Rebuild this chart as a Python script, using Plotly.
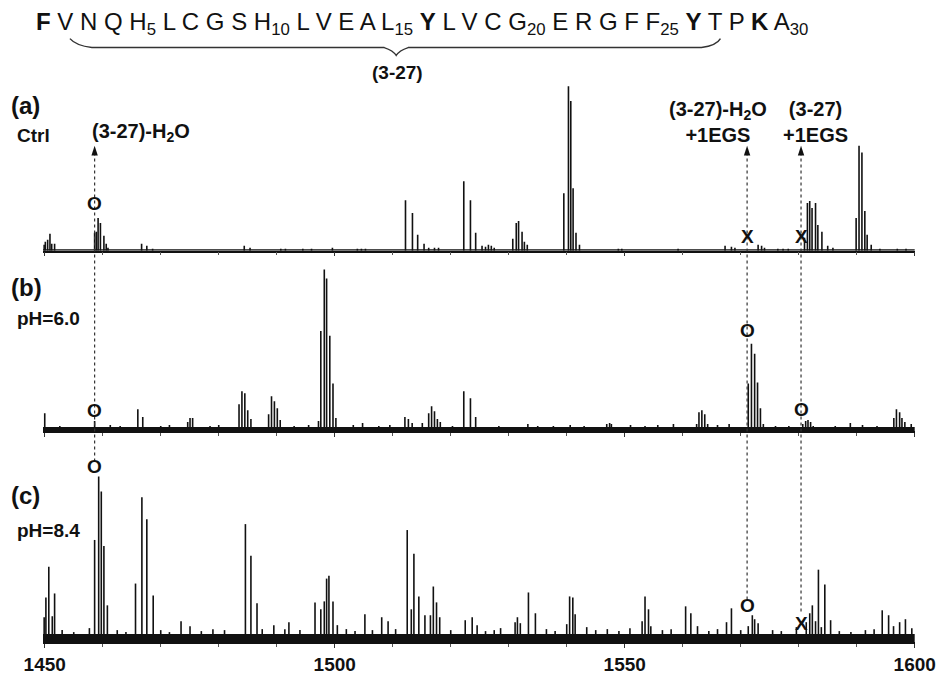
import plotly.graph_objects as go

# ---------------- data (m/z, relative intensity a.u.) ----------------
mz_a = [1449.9, 1450.1, 1450.5, 1450.9, 1451.2, 1451.7,
        1458.6, 1458.9, 1459.2, 1459.6, 1460.2, 1460.6, 1460.9,
        1466.7, 1467.6, 1468.6, 1484.4, 1485.4, 1490.7, 1491.5,
        1494.5, 1496.0, 1499.6, 1503.9, 1504.6, 1505.3,
        1512.2, 1513.4, 1514.3, 1515.4, 1516.2, 1517.2, 1517.9,
        1522.25, 1523.4, 1524.3, 1525.4, 1526.0, 1526.5, 1527.0, 1527.5,
        1530.7, 1531.3, 1531.7, 1532.3, 1532.7, 1533.2,
        1539.5, 1540.3, 1540.7, 1541.1, 1541.6, 1542.2,
        1548.9, 1549.5, 1559.2, 1567.3, 1568.4, 1569.0,
        1573.0, 1573.6, 1574.1, 1576.4, 1577.3, 1578.2,
        1581.0, 1581.5, 1581.9, 1582.3, 1582.9, 1583.3, 1584.0, 1585.0, 1585.9,
        1589.9, 1590.4, 1590.9, 1591.4, 1591.8, 1592.5,
        1594.0, 1597.0, 1598.5]
int_a = [6, 9, 11, 17, 7, 7,
         18, 19, 33, 28, 15, 7, 3,
         7, 5, 2, 5, 3, 2, 2,
         2, 2, 3, 2, 2, 2,
         51, 38, 16, 7, 3, 3, 3,
         70, 51, 18, 5, 4, 6, 5, 3,
         12, 28, 30, 19, 9, 6,
         58, 166, 151, 63, 18, 6,
         2, 2, 2, 5, 4, 3,
         6, 5, 3, 2, 2, 2,
         13, 48, 50, 43, 48, 26, 19, 5, 3,
         33, 106, 99, 40, 16, 6,
         2, 2, 2]

mz_b = [1450.0, 1452.6, 1455.3, 1458.6, 1461.3, 1463.0, 1466.05, 1466.9,
        1470.0, 1471.5, 1474.65, 1475.05, 1475.5, 1478.5, 1480.0,
        1483.5, 1484.0, 1484.5, 1485.0, 1485.55,
        1488.6, 1489.1, 1489.6, 1490.1, 1490.6, 1493.0, 1495.5,
        1497.2, 1497.6, 1498.2, 1498.6, 1499.15, 1499.7, 1500.2,
        1503.2, 1504.8, 1507.6, 1509.5,
        1512.1, 1512.7, 1513.35,
        1515.1, 1516.2, 1516.7, 1517.2, 1517.7, 1518.2, 1520.3,
        1522.25, 1523.4, 1524.3, 1528.3, 1533.3, 1535.0, 1537.7, 1540.6, 1543.0,
        1546.9, 1547.4, 1547.7, 1551.0, 1553.5, 1555.7, 1558.4,
        1562.4, 1562.8, 1563.3, 1563.8, 1564.3, 1566.0, 1568.0,
        1571.3, 1571.85, 1572.4, 1572.9, 1573.4, 1573.9, 1576.0, 1578.3,
        1580.7, 1581.2, 1581.6, 1582.05, 1582.5, 1584.5, 1586.3, 1588.9,
        1591.0, 1593.5,
        1596.4, 1596.85, 1597.4, 1597.8, 1598.3, 1599.4]
int_b = [18, 5, 4, 10, 6, 5, 22, 14,
         5, 6, 9, 13, 13, 5, 6,
         27, 40, 38, 21, 12,
         17, 35, 30, 23, 11, 5, 6,
         10, 101, 163, 154, 96, 48, 13,
         6, 8, 5, 6,
         14, 12, 8,
         8, 18, 25, 20, 12, 9, 5,
         40, 33, 14, 5, 7, 5, 5, 6, 5,
         7, 8, 7, 6, 5, 6, 7,
         7, 19, 21, 17, 7, 6, 7,
         48, 88, 78, 49, 23, 7, 5, 5,
         7, 10, 11, 9, 5, 4, 5, 8,
         6, 5,
         13, 22, 19, 13, 9, 7]

mz_c = [1449.9, 1450.2, 1450.7, 1451.3, 1451.7, 1453.0, 1455.0, 1457.7,
        1458.6, 1459.3, 1459.75, 1460.2, 1460.8, 1462.5, 1464.0,
        1465.65, 1466.75, 1467.6, 1468.7, 1470.0, 1471.5,
        1473.5, 1475.05, 1477.0, 1479.0, 1481.0,
        1484.6, 1485.55, 1486.6, 1487.5, 1489.5, 1491.4, 1492.1, 1494.0,
        1496.6, 1497.6, 1498.2, 1498.6, 1499.0, 1499.7, 1500.45,
        1502.0, 1503.5, 1505.2, 1506.5, 1508.1, 1509.2, 1510.5,
        1512.5, 1513.2, 1513.65, 1514.5, 1515.55, 1516.5, 1517.0, 1517.55, 1518.1,
        1520.0, 1522.5, 1523.7, 1524.55, 1526.0, 1527.5, 1528.6,
        1531.1, 1531.5, 1532.0, 1533.4, 1534.6, 1536.5, 1538.0,
        1540.0, 1540.5, 1541.05, 1541.45, 1543.45, 1545.0, 1547.0, 1549.0,
        1550.9, 1553.0, 1553.5, 1554.1, 1554.5, 1556.5, 1558.0,
        1560.5, 1561.4, 1562.55, 1564.5, 1566.0, 1567.55, 1568.4, 1570.0,
        1571.3, 1572.0, 1572.4, 1573.0, 1575.5, 1577.0,
        1579.6, 1581.3, 1581.9, 1582.35, 1582.9, 1583.4, 1583.9, 1584.5, 1585.5,
        1587.0, 1589.0, 1591.5, 1593.0,
        1594.4, 1595.5, 1596.35, 1597.4, 1598.4, 1599.5]
int_c = [25, 45, 76, 26, 49, 12, 10, 14,
         103, 167, 152, 97, 37, 12, 10,
         59, 146, 124, 47, 12, 10,
         21, 16, 11, 13, 12,
         119, 87, 39, 13, 17, 13, 20, 12,
         40, 33, 41, 64, 67, 41, 17,
         13, 11, 28, 12, 25, 21, 13,
         113, 33, 89, 46, 27, 27, 56, 40, 25,
         12, 22, 25, 17, 11, 12, 14,
         20, 25, 19, 50, 29, 13, 11,
         18, 46, 45, 28, 15, 12, 13, 11,
         14, 21, 46, 33, 16, 12, 13,
         36, 29, 16, 11, 13, 20, 34, 12,
         16, 27, 23, 19, 12, 11,
         15, 20, 29, 37, 21, 73, 15, 58, 22,
         11, 10, 12, 13,
         32, 27, 16, 20, 23, 14]

# annotated ions (m/z) and the symbol shown in each panel
ion_mz = [1458.6, 1571.1, 1580.4]
ion_labels = ["(3-27)-H<sub>2</sub>O", "(3-27)-H<sub>2</sub>O<br>+1EGS", "(3-27)<br>+1EGS"]
marks_a = ["O", "X", "X"]
marks_a_y = [48, 14, 14]
marks_b = ["O", "O", "O"]
marks_b_y = [21, 101, 22]
marks_c = ["O", "O", "X"]
marks_c_y = [177, 37, 19]

panel_tags = ["(a)", "(b)", "(c)"]
panel_conds = ["Ctrl", "pH=6.0", "pH=8.4"]

tick_values = [1450, 1500, 1550, 1600]
tick_labels = ["1450", "1500", "1550", "1600"]

sequence = ("<b>F</b> V N Q H<sub>5</sub> L C G S H<sub>10</sub> L V E A L<sub>15</sub> "
            "<b>Y</b> L V C G<sub>20</sub> E R G F F<sub>25</sub> <b>Y</b> T P <b>K</b> A<sub>30</sub>")
fragment = "(3-27)"

# ---------------- figure ----------------
W, H = 936, 675
ML, MR, MT, MB = 43, 19, 0, 27
PH = H - MT - MB


def fx(px):
    return (px - ML) / (W - ML - MR)


def fy(py):
    return (PH - py) / PH


FONT = "Liberation Sans, Arial, Helvetica, sans-serif"
INK = "#111"


def sticks(mz, it):
    xs, ys = [], []
    for m, v in zip(mz, it):
        xs += [m, m, None]
        ys += [0, v, None]
    return xs, ys


fig = go.Figure()
for mz, it, xa, ya in [(mz_a, int_a, "x", "y"), (mz_b, int_b, "x2", "y2"), (mz_c, int_c, "x3", "y3")]:
    xs, ys = sticks(mz, it)
    fig.add_trace(go.Scatter(x=xs, y=ys, mode="lines", xaxis=xa, yaxis=ya,
                             line=dict(color=INK, width=1.6), hoverinfo="skip",
                             showlegend=False))

xr = [1449.7, 1600.05]
axis_common = dict(range=xr, showline=True, linecolor=INK, linewidth=1.5,
                   ticks="outside", ticklen=4, tickcolor="#333",
                   showgrid=False, zeroline=False,
                   tickvals=tick_values, ticktext=tick_labels,
                   minor=dict(dtick=10, tick0=1450, ticks="outside", ticklen=3, tickcolor="#555"))

dom_a = [fy(253), fy(253 - 168)]
dom_b = [fy(435), fy(435 - 165)]
dom_c = [0, 182 / PH]

fig.update_layout(
    width=W, height=H, margin=dict(l=ML, r=MR, t=MT, b=MB),
    paper_bgcolor="white", plot_bgcolor="white",
    xaxis=dict(anchor="y", showticklabels=False, **axis_common),
    xaxis2=dict(anchor="y2", matches="x", showticklabels=False, **axis_common),
    xaxis3=dict(anchor="y3", matches="x", showticklabels=True, ticklabeloverflow="allow",
                tickfont=dict(family=FONT, size=19, color=INK, weight="bold"), **axis_common),
    yaxis=dict(domain=dom_a, range=[0, 168], visible=False),
    yaxis2=dict(domain=dom_b, range=[0, 165], visible=False),
    yaxis3=dict(domain=dom_c, range=[0, 182], visible=False),
)

shapes = []
# noise bands
for yref, lvl in [("y", 1.5), ("y2", 4), ("y3", 8)]:
    shapes.append(dict(type="rect", xref="x", yref=yref, x0=xr[0], x1=1600, y0=0, y1=lvl,
                       fillcolor=INK, line=dict(width=0), layer="above"))

# dotted guide lines and arrowheads
line_bottoms = [465, 607, 620]
for m, yb in zip(ion_mz, line_bottoms):
    shapes.append(dict(type="line", xref="x", yref="paper", x0=m, x1=m, y0=fy(154), y1=fy(yb),
                       line=dict(color="#333", width=1.2, dash="dot")))
    shapes.append(dict(type="path", xref="x", yref="paper",
                       path=f"M {m - 0.55},{fy(157)} L {m + 0.55},{fy(157)} L {m},{fy(147)} Z",
                       fillcolor=INK, line=dict(width=0)))

# brace under the sequence
bp = [(70, 39), (76, 46), (92, 48), (385, 48), (394, 51), (397, 56), (400, 51), (409, 48),
      (703, 48), (718, 46), (722, 39)]
path = f"M {fx(bp[0][0])},{fy(bp[0][1])} Q {fx(bp[1][0])},{fy(bp[1][1])} {fx(bp[2][0])},{fy(bp[2][1])} "
path += f"L {fx(bp[3][0])},{fy(bp[3][1])} Q {fx(bp[4][0])},{fy(bp[4][1])} {fx(bp[5][0])},{fy(bp[5][1])} "
path += f"Q {fx(bp[6][0])},{fy(bp[6][1])} {fx(bp[7][0])},{fy(bp[7][1])} "
path += f"L {fx(bp[8][0])},{fy(bp[8][1])} Q {fx(bp[9][0])},{fy(bp[9][1])} {fx(bp[10][0])},{fy(bp[10][1])}"
shapes.append(dict(type="path", xref="paper", yref="paper", path=path,
                   line=dict(color="#333", width=1.4)))

fig.update_layout(shapes=shapes)


def note(text, x, y, size, xanchor="center", xref="paper", yref="paper"):
    return dict(text=text, xref=xref, yref=yref, x=x, y=y, xanchor=xanchor, yanchor="middle",
                showarrow=False, align="center", font=dict(family=FONT, size=size, color=INK))


ann = []
ann.append(note(sequence, fx(34), fy(24), 24, xanchor="left"))
ann.append(note(f"<b>{fragment}</b>", fx(398), fy(73), 19))

# panel tags and conditions
tag_y = [106, 290, 500]
cond_y = [137, 321, 535]
for t, c, ty, cy in zip(panel_tags, panel_conds, tag_y, cond_y):
    ann.append(note(f"<b>{t}</b>", fx(9), fy(ty), 24, xanchor="left"))
    ann.append(note(f"<b>{c}</b>", fx(15), fy(cy), 19, xanchor="left"))

# ion labels
lab_pos = [(141, 134), (720, 123), (817, 123)]
for lbl, (lx, ly) in zip(ion_labels, lab_pos):
    ann.append(note(f"<b>{lbl}</b>", fx(lx), fy(ly), 20))

# O / X markers at ion positions
for marks, ys, xa, ya in [(marks_a, marks_a_y, "x", "y"), (marks_b, marks_b_y, "x2", "y2"),
                          (marks_c, marks_c_y, "x3", "y3")]:
    for m, s, yv in zip(ion_mz, marks, ys):
        ann.append(note(f"<b>{s}</b>", m, yv, 19, xref=xa, yref=ya))

fig.update_layout(annotations=ann)

fig.write_html("out.html")
